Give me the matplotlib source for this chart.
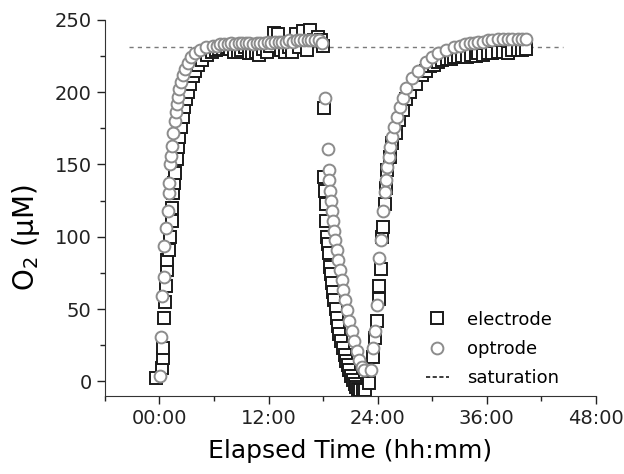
import numpy as np
import matplotlib
matplotlib.use('Agg')
import matplotlib.pyplot as plt
from matplotlib.lines import Line2D

plt.rcParams['font.family'] = ['DejaVu Sans']

# electrode readings (hours, uM)
elec_t = [-0.35, 0.3, 0.35, 0.4, 0.5, 0.6, 0.72, 0.83, 0.85, 1.05, 1.16, 1.38, 1.4, 1.49, 1.6, 1.7,
          1.93, 2.04, 2.15, 2.37, 2.59, 2.7, 2.92, 3.14, 3.36, 3.69, 3.91, 4.24, 4.68, 5.23, 5.78,
          6.2, 6.6, 7.0, 7.4, 7.8, 8.2, 8.6, 9.0, 9.4, 9.8, 10.2, 10.6, 11.0, 11.4, 11.8, 12.2,
          12.6, 13.0, 13.4, 13.8, 14.2, 14.6, 15.0, 15.4, 15.8, 16.2, 16.6, 17.0, 17.4, 17.8, 18.0,
          18.15, 18.1, 18.22, 18.3, 18.33, 18.44, 18.55, 18.66, 18.77, 18.88, 18.99, 19.1, 19.21,
          19.38, 19.54, 19.65, 19.76, 19.98, 20.2, 20.36, 20.53, 20.7, 20.86, 21.08, 21.29, 21.46,
          21.63, 21.85, 22.07, 22.35, 22.63, 23.0, 23.45, 23.7, 23.89, 24.11, 24.17, 24.33, 24.46,
          24.61, 24.77, 24.89, 25.05, 25.33, 25.6, 25.99, 26.3, 26.74, 27.14, 27.58, 28.24, 28.9,
          29.34, 29.78, 30.2, 30.6, 31.1, 31.6, 32.1, 32.4, 32.86, 33.3, 33.8, 34.3, 34.8, 35.07,
          35.6, 36.1, 36.6, 37.27, 37.8, 38.3, 38.8, 39.47, 39.9, 40.35]
elec_v = [2, 9, 16, 23, 44, 55, 66, 77, 84, 91, 100, 111, 120, 130, 137, 144,
          154, 162, 169, 176, 183, 190, 195, 200, 206, 211, 215, 219, 222, 226, 228,
          229, 230, 230, 231, 230, 228, 228, 229, 231, 227, 227, 228, 226, 230, 228, 232,
          241, 240, 229, 228, 231, 228, 240, 231, 242, 229, 243, 236, 238, 236, 232,
          189, 141, 132, 123, 111, 100, 95, 89, 79, 74, 68, 62, 56,
          50, 44, 38, 33, 28, 23, 18, 14, 11, 8, 4, 1, -2,
          -4, -5, -6, -6, -6, -1, 17, 30, 42, 57, 66, 78, 100,
          107, 123, 134, 146, 155, 165, 172, 181, 188, 195, 200, 206, 212,
          215, 218, 219, 221, 222, 223, 223, 224, 224, 225, 224, 226, 225, 227,
          226, 227, 227, 228, 228, 227, 229, 229, 229, 230]

# optrode readings (hours, uM)
opt_t = [0.12, 0.21, 0.33, 0.5, 0.55, 0.77, 0.94, 1.05, 1.08, 1.21, 1.3, 1.38, 1.52, 1.7, 1.82,
         1.93, 2.04, 2.2, 2.37, 2.59, 2.8, 3.14, 3.47, 3.91, 4.46, 5.1, 5.9,
         6.3, 6.7, 7.1, 7.5, 7.9, 8.3, 8.7, 9.1, 9.5, 9.9, 10.3, 10.7, 11.1, 11.5, 11.9, 12.3,
         12.7, 13.1, 13.5, 13.9, 14.3, 14.7, 15.1, 15.5, 15.9, 16.3, 16.7, 17.1, 17.5, 17.9,
         18.2, 18.5, 18.6, 18.66, 18.77, 18.88, 18.95, 19.1, 19.21, 19.32, 19.54, 19.65, 19.87,
         20.09, 20.2, 20.42, 20.64, 20.86, 21.19, 21.41, 21.74, 21.96, 22.29, 22.5,
         23.23, 23.45, 23.67, 23.89, 24.11, 24.33, 24.55, 24.77, 24.89, 24.99, 25.21, 25.33,
         25.6, 25.82, 26.15, 26.43, 26.74, 27.14, 27.8, 28.46, 29.34, 30.0, 30.66, 31.5, 32.42,
         33.0, 33.6, 34.2, 34.6, 35.07, 35.6, 36.1, 36.6, 37.27, 37.8, 38.3, 38.8, 39.47, 39.9, 40.35]
opt_v = [3.5, 30.5, 59, 72, 93.5, 106, 118, 130, 137, 150, 156, 163, 172, 180, 186,
         192, 197, 202, 207, 212, 216, 220, 224, 227, 229, 231, 232,
         232, 233, 233, 233, 234, 233, 234, 234, 234, 234, 233, 234, 234, 234, 235, 234,
         235, 235, 235, 235, 236, 235, 236, 236, 236, 236, 236, 236, 236, 234,
         196, 161, 146, 139, 132, 125, 118, 111, 104, 98, 91, 84, 77,
         70, 63, 56, 49, 42, 35, 28, 21, 15, 10, 8,
         8, 23, 35, 53, 85, 98, 118, 131, 139, 148, 155, 162,
         169, 176, 183, 190, 196, 203, 210, 215, 221, 224, 227, 229, 231,
         232, 233, 234, 234, 235, 235, 236, 236, 237, 237, 237, 237, 237, 237, 237]

sat_t = [-3.3, 44.4]
sat_v = [231.5, 231.5]

fig = plt.figure(figsize=(6.24, 4.74), dpi=100)
ax = fig.add_axes([0.168, 0.165, 0.787, 0.793])

sq = dict(ls='none', marker='s', ms=8, mfc='white', mec='#1a1a1a', mew=1.4)
ci = dict(ls='none', marker='o', ms=8.5, mfc='white', mec='#8c8c8c', mew=1.4)

ax.plot(sat_t, sat_v, color='#7a7a7a', lw=1.0, dashes=(3, 3))
ax.plot(elec_t, elec_v, **sq)
ax.plot(opt_t, opt_v, **ci)

ax.set_xlim(-6, 48)
ax.set_ylim(-10, 250)
ax.set_xticks([0, 12, 24, 36, 48])
ax.set_xticklabels(['00:00', '12:00', '24:00', '36:00', '48:00'])
ax.set_xticks([-6, 6, 18, 30, 42], minor=True)
ax.set_yticks([0, 50, 100, 150, 200, 250])
ax.set_yticks([25, 75, 125, 175, 225], minor=True)
ax.tick_params(which='major', direction='out', length=6, width=1, labelsize=14, colors='#222')
ax.tick_params(which='minor', direction='out', length=3.5, width=1, colors='#222')
for s in ['top', 'right']:
    ax.spines[s].set_visible(False)
for s in ['left', 'bottom']:
    ax.spines[s].set_color('#333')

ax.set_xlabel('Elapsed Time (hh:mm)', fontsize=18, labelpad=8)
ax.set_ylabel('O$_2$ (\u03bcM)', fontsize=20)
ax.yaxis.set_label_coords(-0.127, 0.42)

handles = [Line2D([], [], **sq), Line2D([], [], **ci),
           Line2D([], [], color='#1a1a1a', lw=1.2, dashes=(2.5, 1.5))]
ax.legend(handles, ['electrode', 'optrode', 'saturation'], loc='lower left',
          bbox_to_anchor=(0.62, -0.02), frameon=False, fontsize=13,
          handlelength=1.3, handletextpad=1.0, labelspacing=0.62)

fig.savefig('out.png', dpi=100)
